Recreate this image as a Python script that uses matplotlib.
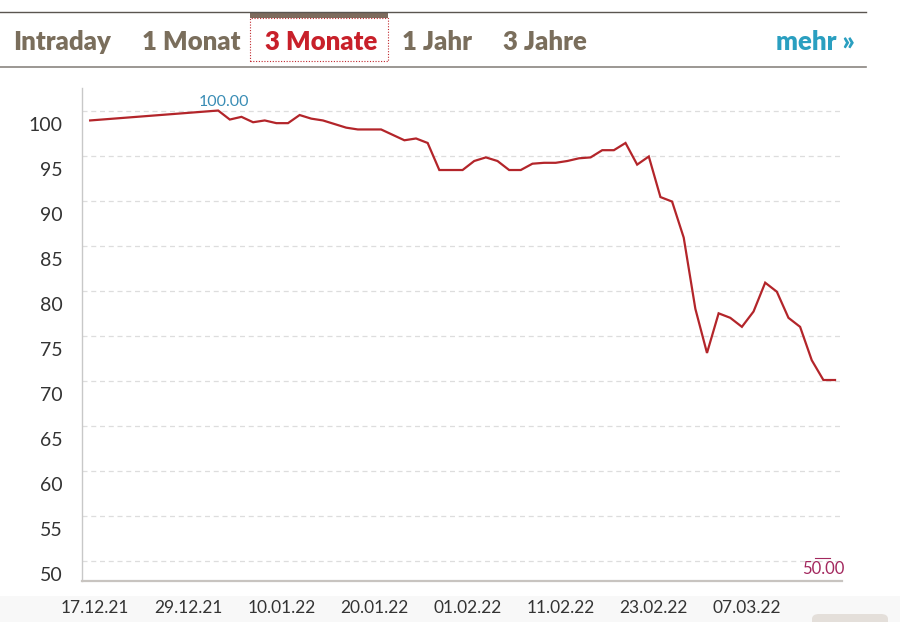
import matplotlib
matplotlib.use('AGG')
import matplotlib.pyplot as plt
from matplotlib.lines import Line2D
from matplotlib.patches import Rectangle, FancyBboxPatch
from matplotlib.transforms import ScaledTranslation

# trading-day index and closing value
day_idx = [0, 11, 12, 13, 14, 15, 16, 17, 18, 19, 20, 21, 22, 23, 24, 25, 26, 27,
           28, 29, 30, 31, 32, 33, 34, 35, 36, 37, 38, 39, 40, 41, 42, 43, 44, 45,
           46, 47, 48, 49, 50, 51, 52, 53, 54, 55, 56, 57, 58, 59, 60, 61, 62, 63, 64]
kurs = [98.9, 100.0, 99.0, 99.3, 98.7, 98.9, 98.6, 98.6, 99.5, 99.1, 98.9, 98.5,
        98.1, 97.9, 97.9, 97.9, 97.3, 96.7, 96.9, 96.4, 93.4, 93.4, 93.4, 94.4,
        94.8, 94.4, 93.4, 93.4, 94.1, 94.2, 94.2, 94.4, 94.7, 94.8, 95.6, 95.6,
        96.4, 94.0, 94.9, 90.4, 89.9, 85.9, 78.0, 73.1, 77.5, 77.0, 76.0, 77.7,
        80.9, 79.9, 77.0, 76.0, 72.3, 70.1, 70.1]

x_ticks = [0, 8, 16, 24, 32, 40, 48, 56]
x_labels = ['17.12.21', '29.12.21', '10.01.22', '20.01.22', '01.02.22',
            '11.02.22', '23.02.22', '07.03.22']
y_ticks = [100, 95, 90, 85, 80, 75, 70, 65, 60, 55, 50]

tabs = ['Intraday', '1 Monat', '3 Monate', '1 Jahr', '3 Jahre']
tab_x = [13, 142, 265, 402, 503]
active_tab = '3 Monate'

W, H = 900, 622
DPI = 100


def px(x, y):
    """pixel position (top-left origin) -> figure fraction"""
    return x / W, 1 - y / H


fig = plt.figure(figsize=(W / DPI, H / DPI), dpi=DPI)
fig.patch.set_facecolor('white')

# plot area
l, b = px(82, 581)
r, t = px(842, 88)
ax = fig.add_axes([l, b, r - l, t - b])
ax.plot(day_idx, kurs, color='#b3252a', linewidth=1.6, solid_joinstyle='miter', zorder=3)
ax.set_xlim(-0.7, 64.6)
ax.set_ylim(47.8, 102.5)

ax.set_yticks(y_ticks)
ax.set_yticklabels([str(v) for v in y_ticks])
ax.set_xticks(x_ticks)
ax.set_xticklabels(x_labels)
ax.tick_params(axis='y', length=0, pad=14, labelsize=14, labelcolor='#333333')
ax.tick_params(axis='x', length=0, pad=14, labelsize=12.5, labelcolor='#333333')
for lab in ax.get_yticklabels():
    lab.set_fontfamily('Lato')
    lab.set_transform(lab.get_transform() + ScaledTranslation(0, -13 / DPI, fig.dpi_scale_trans))
for lab in ax.get_xticklabels():
    lab.set_fontfamily('Lato')
    lab.set_transform(lab.get_transform() + ScaledTranslation(5 / DPI, 0, fig.dpi_scale_trans))

ax.grid(axis='y', linestyle=(0, (4, 3)), linewidth=0.9, color='#dddddd', zorder=0)
ax.grid(axis='x', visible=False)
for side in ['top', 'right']:
    ax.spines[side].set_visible(False)
ax.spines['left'].set_color('#c8c8c8')
ax.spines['left'].set_linewidth(1.0)
ax.spines['bottom'].set_color('#c8c4c0')
ax.spines['bottom'].set_linewidth(1.6)

# max / min annotations
i_max = kurs.index(max(kurs))
ax.annotate('100.00', (day_idx[i_max], kurs[i_max]), xytext=(4, 1), textcoords='offset points',
            ha='center', va='bottom', fontsize=11.5, color='#3a8db5', family='Lato')
ax.annotate('50.00', (64.6, 50), xytext=(2, 0), textcoords='offset points',
            ha='right', va='top', fontsize=12, color='#a3285e', family='Lato',
            annotation_clip=False)
fig.add_artist(Line2D([815 / W, 830 / W], [1 - 558 / H] * 2, color='#a3285e', linewidth=0.8))

# header with tabs
fig.add_artist(Line2D([0, 866 / W], [1 - 12 / H] * 2, color='#5a5550', linewidth=1.0))
fig.add_artist(Line2D([0, 866 / W], [1 - 67 / H] * 2, color='#8a8580', linewidth=1.2))
fig.add_artist(Rectangle(px(250, 18), 138 / W, 6 / H, transform=fig.transFigure,
                         facecolor='#7d6b5d', edgecolor='none'))
fig.add_artist(Rectangle(px(250, 61), 138 / W, 43 / H, transform=fig.transFigure,
                         facecolor='none', edgecolor='#c0282d', linestyle=(0, (1, 1.5)),
                         linewidth=0.8))
for name, xx in zip(tabs, tab_x):
    col = '#c8202a' if name == active_tab else '#7a6e5c'
    fig.text(*px(xx, 42), name, ha='left', va='center', fontsize=18.5, fontweight='heavy',
             color=col, family='Lato')
fig.text(*px(855, 42), 'mehr »', ha='right', va='center', fontsize=18.5, fontweight='heavy',
         color='#2a9fc0', family='Lato')

# faint bottom band and button stub
fig.add_artist(Rectangle((0, 0), 1, 26 / H, transform=fig.transFigure,
                         facecolor='#f8f8f8', edgecolor='none', zorder=-1))
fig.add_artist(FancyBboxPatch(px(812, 630), 76 / W, 16 / H, boxstyle='round,pad=0,rounding_size=0.008',
                              transform=fig.transFigure, facecolor='#e4dfda', edgecolor='none'))

fig.savefig('out.png', dpi=DPI)
